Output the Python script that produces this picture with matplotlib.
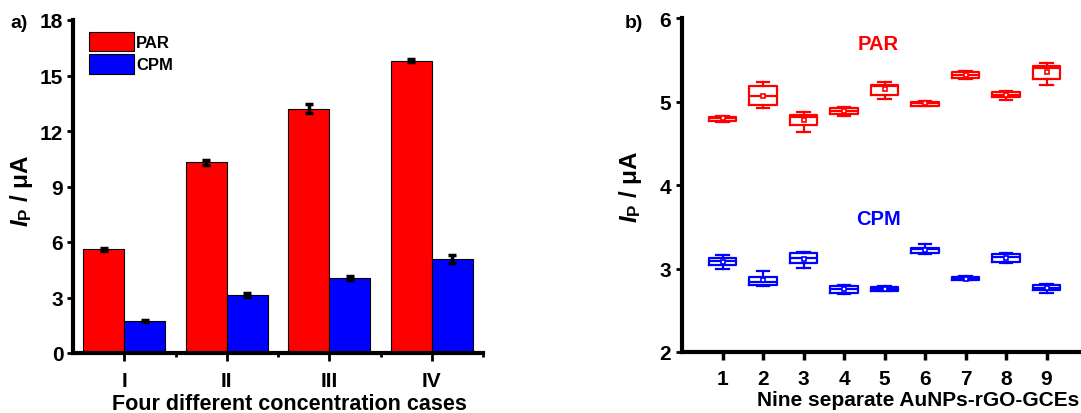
import matplotlib
matplotlib.use("Agg")
import matplotlib.pyplot as plt
import numpy as np

plt.rcParams['font.family'] = ['Liberation Sans', 'DejaVu Sans']
plt.rcParams['font.weight'] = 'bold'
plt.rcParams['mathtext.fontset'] = 'custom'
plt.rcParams['mathtext.rm'] = 'Liberation Sans:bold'
plt.rcParams['mathtext.it'] = 'Liberation Sans:italic:bold'
plt.rcParams['mathtext.bf'] = 'Liberation Sans:bold'

# --- panel a: four concentration cases ---
CASES = ["I", "II", "III", "IV"]
PAR_MEAN = [5.6, 10.3, 13.2, 15.8]
PAR_ERR = [0.10, 0.12, 0.24, 0.07]
CPM_MEAN = [1.73, 3.13, 4.04, 5.08]
CPM_ERR = [0.06, 0.09, 0.10, 0.20]

# --- panel b: nine electrodes, box stats ---
ELECTRODES = [1, 2, 3, 4, 5, 6, 7, 8, 9]
PAR_WLO = [4.76, 4.92, 4.64, 4.83, 5.03, 4.95, 5.27, 5.02, 5.20]
PAR_Q1  = [4.77, 4.96, 4.72, 4.85, 5.08, 4.95, 5.28, 5.05, 5.27]
PAR_MED = [4.80, 5.07, 4.81, 4.89, 5.18, 4.98, 5.32, 5.08, 5.40]
PAR_Q3  = [4.82, 5.18, 4.84, 4.92, 5.20, 5.00, 5.35, 5.11, 5.43]
PAR_WHI = [4.83, 5.23, 4.88, 4.94, 5.23, 5.01, 5.37, 5.12, 5.46]
PAR_AVG = [4.80, 5.07, 4.78, 4.89, 5.15, 4.98, 5.32, 5.08, 5.35]

CPM_WLO = [3.00, 2.79, 3.01, 2.69, 2.73, 3.17, 2.86, 3.07, 2.71]
CPM_Q1  = [3.04, 2.80, 3.07, 2.71, 2.73, 3.18, 2.86, 3.08, 2.74]
CPM_MED = [3.09, 2.84, 3.13, 2.75, 2.75, 3.23, 2.88, 3.14, 2.77]
CPM_Q3  = [3.12, 2.90, 3.18, 2.79, 2.78, 3.25, 2.90, 3.17, 2.80]
CPM_WHI = [3.16, 2.97, 3.20, 2.80, 2.79, 3.29, 2.91, 3.19, 2.81]
CPM_AVG = [3.08, 2.86, 3.11, 2.75, 2.75, 3.22, 2.88, 3.12, 2.77]

RED = "#FF0000"
BLUE = "#0000FF"

fig = plt.figure(figsize=(10.81, 4.14), dpi=100)
ax1 = fig.add_axes([73 / 1081, 60 / 414, 410 / 1081, 333 / 414])
ax2 = fig.add_axes([682 / 1081, 61 / 414, 405 / 1081, 334 / 414])

for ax in (ax1, ax2):
    for s in ["top", "right"]:
        ax.spines[s].set_visible(False)
    for s in ["left", "bottom"]:
        ax.spines[s].set_linewidth(3)
    ax.tick_params(labelsize=15, width=2)

# panel a
x = np.arange(1, len(CASES) + 1)
err_kw = dict(elinewidth=2.5, capthick=2.5, ecolor="black")
b1 = ax1.bar(x - 0.2, PAR_MEAN, 0.4, color=RED, edgecolor="black", linewidth=0.8,
             yerr=PAR_ERR, capsize=3, error_kw=err_kw, label="PAR")
b2 = ax1.bar(x + 0.2, CPM_MEAN, 0.4, color=BLUE, edgecolor="black", linewidth=0.8,
             yerr=CPM_ERR, capsize=3, error_kw=err_kw, label="CPM")
ax1.set_xlim(0.5, 4.5)
ax1.set_ylim(0, 18)
ax1.set_yticks(range(0, 19, 3))
ax1.set_xticks(x)
ax1.set_xticklabels(CASES)
ax1.set_xticks(x + 0.5, minor=True)
ax1.tick_params(axis="x", which="major", length=6, pad=7)
ax1.tick_params(axis="x", which="minor", length=3, width=2)
ax1.tick_params(axis="y", length=4, pad=3)
ax1.set_xlabel("Four different concentration cases", fontsize=15.5, fontweight="bold")
ax1.xaxis.set_label_coords(0.527, -0.12)
ax1.set_ylabel(r"$I_\mathrm{P}$ / μA", fontsize=17.5, fontweight="bold")
ax1.yaxis.set_label_coords(-0.092, 0.49)
ax1.legend(loc="upper left", bbox_to_anchor=(0.01, 1.0), frameon=False, fontsize=12,
           handlelength=2.7, handleheight=1.4, labelspacing=0.2, handletextpad=0.15,
           borderaxespad=0.3)

# panel b
def box_stats(wlo, q1, med, q3, whi, avg):
    return [dict(whislo=a, q1=b, med=c, q3=d, whishi=e, mean=f, fliers=[])
            for a, b, c, d, e, f in zip(wlo, q1, med, q3, whi, avg)]

for stats, col in [(box_stats(PAR_WLO, PAR_Q1, PAR_MED, PAR_Q3, PAR_WHI, PAR_AVG), RED),
                   (box_stats(CPM_WLO, CPM_Q1, CPM_MED, CPM_Q3, CPM_WHI, CPM_AVG), BLUE)]:
    line = dict(color=col, linewidth=1.6)
    ax2.bxp(stats, positions=ELECTRODES, widths=0.68, showmeans=True, showfliers=False,
            boxprops=line, whiskerprops=line, capprops=line, medianprops=line,
            meanprops=dict(marker="s", markersize=3.5, markerfacecolor="white",
                           markeredgecolor=col, markeredgewidth=1.2),
            capwidths=0.32, manage_ticks=False)

ax2.set_xlim(0, 10)
ax2.set_ylim(2, 6)
ax2.set_yticks([2, 3, 4, 5, 6])
ax2.set_xticks(ELECTRODES)
ax2.tick_params(axis="x", length=6, pad=6.5, width=2.5)
ax2.tick_params(axis="y", length=4, pad=4)
ax2.set_xlabel("Nine separate AuNPs-rGO-GCEs", fontsize=15, fontweight="bold")
ax2.xaxis.set_label_coords(0.583, -0.115)
ax2.set_ylabel(r"$I_\mathrm{P}$ / μA", fontsize=17.5, fontweight="bold")
ax2.yaxis.set_label_coords(-0.095, 0.497)
ax2.text(4.84, 5.69, "PAR", color=RED, fontsize=14.5, fontweight="bold",
         ha="center", va="center")
ax2.text(4.84, 3.60, "CPM", color=BLUE, fontsize=14.5, fontweight="bold",
         ha="center", va="center")

fig.text(10 / 1081, 1 - 23 / 414, "a)", fontsize=14, fontweight="bold", va="center")
fig.text(625 / 1081, 1 - 23 / 414, "b)", fontsize=14, fontweight="bold", va="center")

fig.savefig("out.png", dpi=100)
